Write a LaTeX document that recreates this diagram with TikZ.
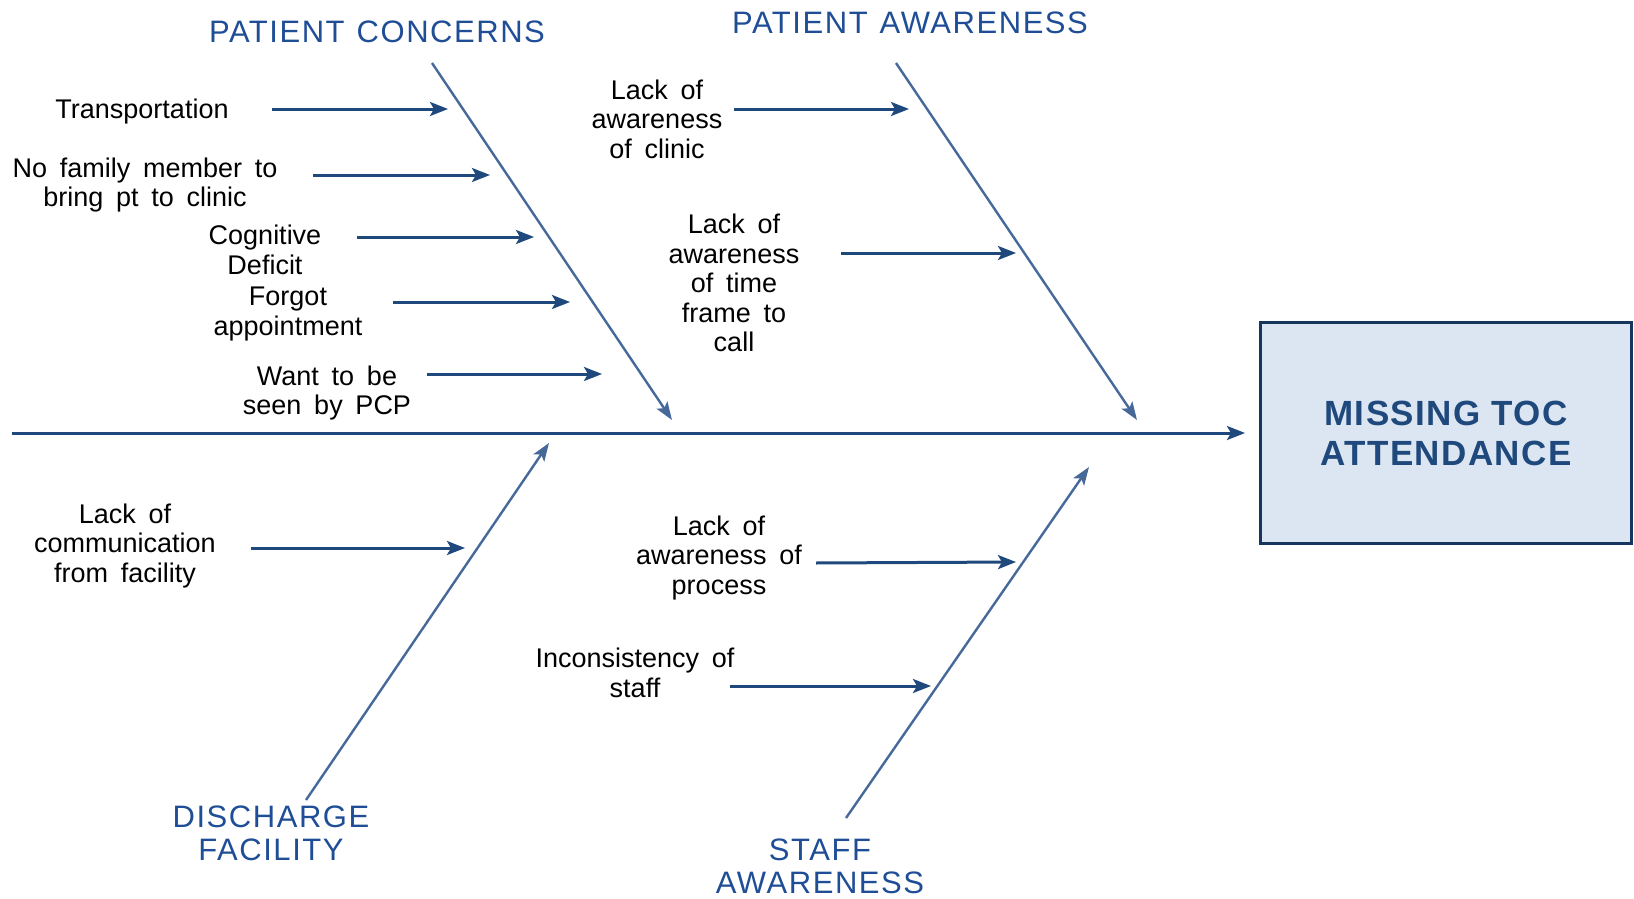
\documentclass[tikz,border=0pt]{standalone}
\usepackage{fontspec}
\setmainfont{Liberation Sans}
\newfontfamily\smallf{Liberation Sans}[WordSpace=1.7]
\newfontfamily\titlef{Liberation Sans}[LetterSpace=5,WordSpace=1.4]
\newfontfamily\boxf{Liberation Sans}[LetterSpace=4]
\usetikzlibrary{arrows.meta}
\definecolor{navy}{HTML}{1F497D}
\definecolor{bonec}{HTML}{46699A}
\definecolor{titlec}{HTML}{1F4E96}
\definecolor{boxfill}{HTML}{DCE6F2}
\definecolor{boxline}{HTML}{17365D}
\tikzset{
  cause/.style={align=center,inner sep=0pt,font=\smallf\fontsize{27}{29.5}\selectfont,text=black},
  cat/.style={align=center,inner sep=0pt,font=\titlef\fontsize{31}{33}\selectfont,text=titlec},
  causearrow/.style={draw=navy,line width=3pt,-{Stealth[length=18pt,width=14pt,inset=4pt]}},
  bone/.style={draw=bonec,line width=2.4pt,-{Stealth[length=18pt,width=13pt,inset=4pt]}},
  effect/.style={draw=boxline,line width=3pt,fill=boxfill,minimum width=371pt,minimum height=221pt,
     align=center,inner sep=0pt,font=\boxf\bfseries\fontsize{35}{40}\selectfont,text=navy}
}
\begin{document}
\begin{tikzpicture}[x=1pt,y=-1pt]
\useasboundingbox (0,0) rectangle (1634,899);
% effect box
\node[effect] (box) at (1446,433) {MISSING TOC\\ATTENDANCE};
% spine
\coordinate (spineL) at (12,433);
\draw[causearrow] (spineL) -- ([xshift=-14pt]box.west);
% category titles
\node[cat] (pc) at (377,32) {PATIENT\hspace{12pt}CONCERNS};
\node[cat] (pa) at (910,23) {PATIENT\hspace{12pt}AWARENESS};
\node[cat] (df) at (271,833) {DISCHARGE\\FACILITY};
\node[cat] (sa) at (820,866) {STAFF\\AWARENESS};
% bones
\coordinate (b1s) at (432,63);   \coordinate (b1e) at (672,420);
\coordinate (b2s) at (896,63);   \coordinate (b2e) at (1137,420);
\coordinate (b3s) at (306,800);  \coordinate (b3e) at (549,443);
\coordinate (b4s) at (846,818);  \coordinate (b4e) at (1089,467);
\draw[bone] (b1s) -- (b1e);
\draw[bone] (b2s) -- (b2e);
\draw[bone] (b3s) -- (b3e);
\draw[bone] (b4s) -- (b4e);
% causes
\node[cause] (c1) at (142,112) {Transportation};
\node[cause] (c2) at (145,185) {No family member to\\bring pt to clinic};
\node[cause] (c3) at (265,250) {Cognitive\\Deficit};
\node[cause] (c4) at (288,314) {Forgot\\appointment};
\node[cause] (c5) at (327,393) {Want to be\\seen by PCP};
\node[cause] (c6) at (657,119) {Lack of\\awareness\\of clinic};
\node[cause] (c7) at (734,283) {Lack of\\awareness\\of time\\frame to\\call};
\node[cause] (c8) at (125,546) {Lack of\\communication\\from facility};
\node[cause] (c9) at (719,558) {Lack of\\awareness of\\process};
\node[cause] (c10) at (635,673) {Inconsistency of\\staff};
% cause arrows
\coordinate (a1s) at (272,109); \coordinate (a1e) at (448,109);
\coordinate (a2s) at (313,175); \coordinate (a2e) at (490,175);
\coordinate (a3s) at (357,237); \coordinate (a3e) at (534,237);
\coordinate (a4s) at (393,302); \coordinate (a4e) at (570,302);
\coordinate (a5s) at (427,374); \coordinate (a5e) at (602,374);
\coordinate (a6s) at (734,109); \coordinate (a6e) at (909,109);
\coordinate (a7s) at (841,253); \coordinate (a7e) at (1016,253);
\coordinate (a8s) at (251,548); \coordinate (a8e) at (465,548);
\coordinate (a9s) at (816,563); \coordinate (a9e) at (1016,562);
\coordinate (a10s) at (730,686); \coordinate (a10e) at (931,686);
\foreach \i in {1,...,10}{\draw[causearrow] (a\i s) -- (a\i e);}
\end{tikzpicture}
\end{document}
